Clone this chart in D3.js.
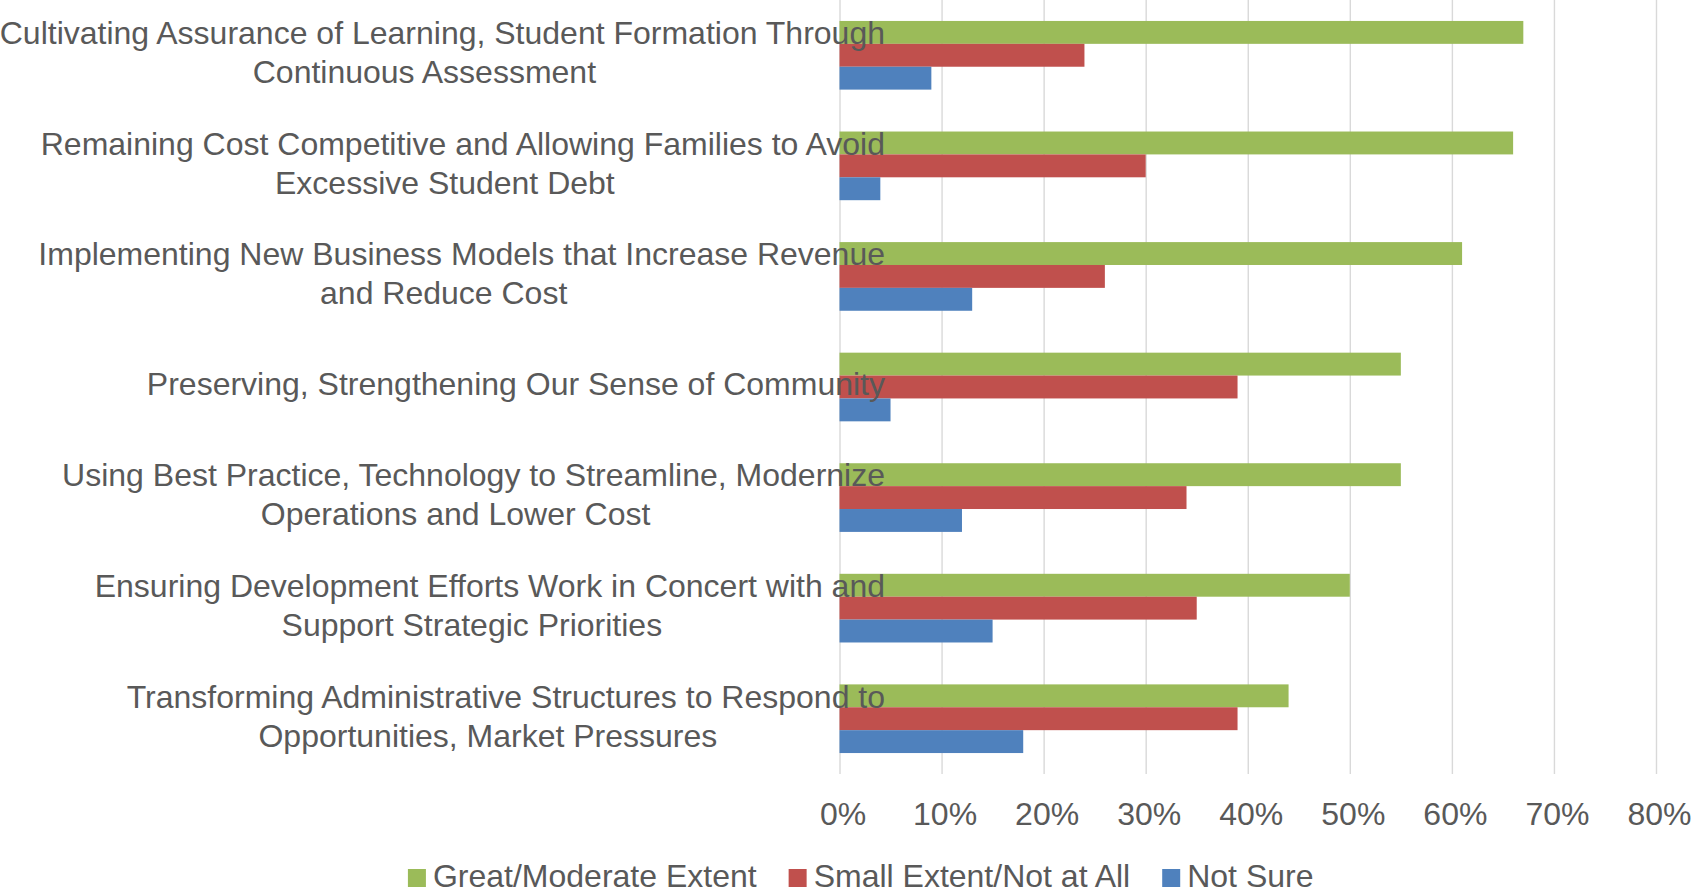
<!DOCTYPE html>
<html><head><meta charset="utf-8">
<script src="https://cdn.jsdelivr.net/npm/d3@7"></script>
<style>
body{margin:0;background:#fff}
text{font-family:"Liberation Sans",Arial,sans-serif;fill:#595959}
</style>
</head><body>
<svg id="c" width="1696" height="895"></svg>
<script>
const categories = [
  "Cultivating Assurance of Learning, Student Formation Through\nContinuous Assessment",
  "Remaining Cost Competitive and Allowing Families to Avoid\nExcessive Student Debt",
  "Implementing New Business Models that Increase Revenue\nand Reduce Cost",
  "Preserving, Strengthening Our Sense of Community",
  "Using Best Practice, Technology to Streamline, Modernize\nOperations and Lower Cost",
  "Ensuring Development Efforts Work in Concert with and\nSupport Strategic Priorities",
  "Transforming Administrative Structures to Respond to\nOpportunities, Market Pressures"
];
const seriesNames = ["Great/Moderate Extent", "Small Extent/Not at All", "Not Sure"];
const greatModerate = [67, 66, 61, 55, 55, 50, 44];
const smallNotAtAll = [24, 30, 26, 39, 34, 35, 39];
const notSure = [9, 4, 13, 5, 12, 15, 18];
const tickValues = [0, 10, 20, 30, 40, 50, 60, 70, 80];
const colors = ["#9BBB59", "#C0504D", "#4F81BD"];

const series = [greatModerate, smallNotAtAll, notSure];
const svg = d3.select("#c");
const FS = 32;
const plotTop = 0, plotBottom = 774;

const x = d3.scaleLinear().domain([0, 80]).range([839.5, 1656]);
const y = d3.scaleBand().domain(d3.range(categories.length))
  .range([plotTop, plotBottom]).paddingInner(0.379).paddingOuter(0.1895);
const ys = d3.scaleBand().domain(d3.range(series.length)).range([0, y.bandwidth()]);

// gridlines + tick labels
const ax = svg.append("g").attr("transform", `translate(0,${plotBottom})`)
  .call(d3.axisBottom(x).tickValues(tickValues).tickSize(-(plotBottom - plotTop))
    .tickPadding(28.3).tickFormat(d => d + "%"));
ax.select(".domain").remove();
ax.selectAll(".tick line").attr("stroke", "#D9D9D9").attr("stroke-width", 1.4);
ax.selectAll(".tick text").attr("font-size", FS).attr("dx", 3)
  .style("font-family", '"Liberation Sans",Arial,sans-serif').attr("fill", "#595959");

// bars
series.forEach((vals, si) => {
  svg.append("g").selectAll("rect").data(vals).join("rect")
    .attr("x", x(0))
    .attr("y", (d, i) => y(i) + ys(si))
    .attr("width", d => x(d) - x(0))
    .attr("height", ys.bandwidth())
    .attr("fill", colors[si]);
});

// category labels
const lab = svg.append("g");
categories.forEach((c, i) => {
  const lines = c.split("\n");
  const cy = y(i) + y.bandwidth() / 2;
  const lh = 39;
  const t = lab.append("text").attr("font-size", FS).attr("text-anchor", "middle");
  const tmp = lab.append("text").attr("font-size", FS).text(lines[0]);
  const w1 = tmp.node().getComputedTextLength();
  tmp.remove();
  const c1 = 885 - w1 / 2;
  lines.forEach((ln, k) => {
    t.append("tspan")
      .attr("x", k === 0 ? c1 : c1 - 18)
      .attr("y", cy + (k - (lines.length - 1) / 2) * lh + 8.3)
      .text(ln);
  });
});

// legend
const lg = svg.append("g");
let widths = seriesNames.map(n => {
  const t = lg.append("text").attr("font-size", FS).text(n);
  const w = t.node().getComputedTextLength(); t.remove(); return w;
});
const sq = 18, gapT = 7, gapI = 32;
const total = d3.sum(widths) + seriesNames.length * (sq + gapT) + (seriesNames.length - 1) * gapI;
let lx = 860.7 - total / 2;
seriesNames.forEach((n, i) => {
  lg.append("rect").attr("x", lx).attr("y", 869).attr("width", sq).attr("height", sq).attr("fill", colors[i]);
  lg.append("text").attr("x", lx + sq + gapT).attr("y", 886.7).attr("font-size", FS).text(n);
  lx += sq + gapT + widths[i] + gapI;
});
</script>
</body></html>
